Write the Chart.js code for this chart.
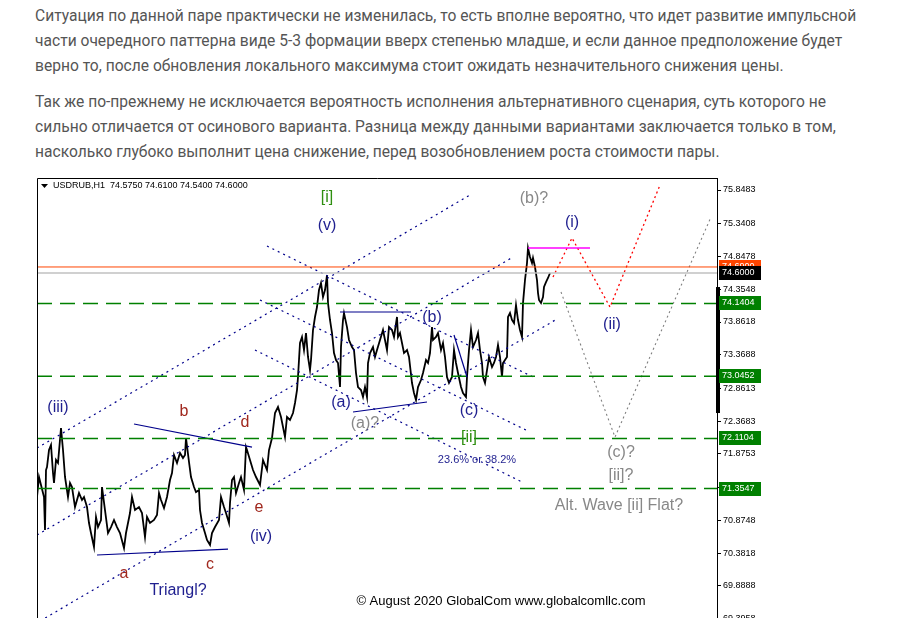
<!DOCTYPE html>
<html>
<head>
<meta charset="utf-8">
<script src="https://cdn.jsdelivr.net/npm/chart.js@4.4.0/dist/chart.umd.min.js"></script>
<style>
html, body { margin: 0; padding: 0; background: #fff; overflow: hidden; width: 910px; height: 618px; }
.txt { position: absolute; left: 35px; top: 4px; font-family: 'Roboto', sans-serif; font-size: 15.6px; line-height: 25px; color: #555; white-space: nowrap; }
.txt p { margin: 0 0 11px 0; }
#chart { position: absolute; left: 0; top: 170px; }
</style>
</head>
<body>
<div class="txt">
<p>Ситуация по данной паре практически не изменилась, то есть вполне вероятно, что идет развитие импульсной<br>части очередного паттерна виде 5-3 формации вверх степенью младше, и если данное предположение будет<br>верно то, после обновления локального максимума стоит ожидать незначительного снижения цены.</p>
<p>Так же по-прежнему не исключается вероятность исполнения альтернативного сценария, суть которого не<br>сильно отличается от осинового варианта. Разница между данными вариантами заключается только в том,<br>насколько глубоко выполнит цена снижение, перед возобновлением роста стоимости пары.</p>
</div>
<canvas id="chart" width="910" height="470"></canvas>
<script>
// USDRUB H1 — hourly close path (bar index, price)
const priceBars = [
  0, 2, 4, 6, 7, 8, 9, 10, 12, 14,
  16, 17, 19, 21, 24, 26, 28, 31, 33, 35,
  38, 42, 45, 47, 50, 52, 54, 57, 59, 61,
  64, 65, 68, 71, 74, 77, 80, 83, 87, 89,
  93, 95, 98, 102, 105, 108, 110, 113, 117, 120,
  122, 124, 127, 130, 133, 135, 137, 140, 143, 146,
  148, 149, 152, 154, 157, 159, 162, 163, 165, 168,
  170, 173, 175, 178, 182, 184, 187, 189, 192, 193,
  195, 197, 199, 202, 204, 207, 209, 210, 213, 216,
  219, 223, 226, 230, 232, 235, 238, 241, 244, 248,
  250, 253, 256, 258, 260, 261, 263, 265, 267, 269,
  271, 273, 274, 276, 278, 280, 282, 284, 286, 288,
  290, 291, 293, 295, 297, 299, 301, 303, 304, 306,
  307, 310, 312, 315, 317, 319, 321, 324, 326, 328,
  330, 331, 333, 336, 338, 340, 343, 346, 348, 350,
  352, 355, 357, 360, 361, 363, 365, 367, 370, 372,
  375, 377, 379, 381, 384, 386, 389, 391, 393, 395,
  396, 399, 401, 404, 406, 408, 410, 412, 415, 417,
  419, 421, 424, 426, 429, 430, 432, 434, 436, 439,
  441, 443, 445, 446, 448, 450, 452, 455, 457, 459,
  461, 463, 465, 466, 468, 470, 471, 473, 475, 477,
  479, 481, 483, 485, 486, 488, 490, 491, 493, 495,
  496, 498, 500, 501, 502, 504, 506, 507, 509, 511,
  513
];
const priceClose = [
  71.228, 71.529, 71.409, 71.288, 71.228, 70.731, 71.634, 71.679, 71.935, 72.011,
  71.589, 71.439, 71.785, 71.740, 72.266, 71.935, 71.529, 71.228, 71.439, 71.378,
  71.077, 71.288, 71.183, 71.228, 71.077, 70.837, 70.686, 70.475, 70.927, 70.776,
  70.882, 71.378, 71.032, 70.686, 70.776, 70.882, 70.776, 70.686, 70.460, 70.686,
  70.987, 71.228, 71.032, 71.077, 70.987, 70.626, 70.927, 70.837, 70.882, 70.957,
  71.288, 71.183, 71.062, 71.228, 71.484, 71.589, 71.860, 71.740, 71.890, 71.815,
  71.860, 72.116, 71.755, 71.529, 71.378, 71.303, 71.333, 71.032, 70.837, 70.686,
  70.581, 70.506, 70.686, 70.776, 70.882, 71.228, 71.077, 70.987, 70.837, 71.138,
  71.484, 71.529, 71.288, 71.439, 71.529, 71.333, 71.980, 71.935, 71.785, 71.634,
  71.529, 71.409, 71.785, 71.634, 71.935, 72.116, 72.492, 72.582, 72.432, 72.131,
  72.432, 72.387, 72.492, 72.643, 72.838, 73.034, 73.546, 73.636, 73.440, 73.696,
  73.335, 73.139, 73.290, 73.741, 73.937, 74.087, 74.343, 74.448, 74.238, 74.343,
  74.569, 74.147, 73.892, 73.696, 73.395, 73.290, 73.245, 72.883, 73.485, 73.892,
  73.997, 73.786, 73.591, 73.485, 73.440, 73.094, 72.883, 72.838, 72.733, 72.883,
  72.733, 73.245, 73.395, 73.485, 73.335, 73.440, 73.591, 73.741, 73.591, 73.440,
  73.786, 73.741, 73.636, 73.937, 73.636, 73.696, 73.546, 73.395, 73.440, 73.335,
  72.944, 72.793, 72.688, 72.883, 72.989, 73.094, 73.290, 73.245, 73.395, 73.786,
  73.591, 73.636, 73.696, 73.440, 73.546, 73.335, 73.034, 72.944, 73.034, 73.440,
  73.245, 73.094, 72.883, 72.793, 72.733, 73.034, 73.440, 73.741, 73.485, 73.591,
  73.696, 73.440, 73.245, 73.034, 72.944, 73.139, 73.335, 73.184, 73.245, 73.335,
  73.515, 73.335, 73.034, 73.245, 73.290, 73.335, 73.937, 73.997, 73.892, 73.846,
  74.117, 73.892, 73.741, 73.636, 74.147, 74.494, 74.749, 74.975, 74.840, 74.749,
  74.825, 74.689, 74.494, 74.298, 74.193, 74.147, 74.238, 74.388, 74.463, 74.524,
  74.599
];

// right-hand price scale
const yTicks = [75.8483, 75.3408, 74.8478, 74.3548, 73.8618, 73.3688, 72.8613,
  72.3683, 71.8753, 71.3783, 70.8748, 70.3818, 69.8888, 69.3958];

// horizontal levels: ask, bid, then the four support/resistance levels
const askLevel = 74.69;
const bidLevel = 74.60;
const greenLevels = [74.1404, 73.0452, 72.1104, 71.3547];

// trend lines, [bar, price] end points
const channelUpper = [[0, 71.965], [433, 75.773]];
const channelMiddle = [[0, 70.656], [476, 74.840]];
const channelLower = [[3, 69.362], [520, 73.907]];
const fanTop = [[230, 75.005], [496, 73.034]];
const fanMid = [[223, 74.193], [491, 72.221]];
const fanLow = [[218, 73.440], [485, 71.454]];
const triangleTop = [[97, 72.327], [215, 71.980]];
const triangleBottom = [[60, 70.355], [191, 70.445]];
const waveATop = [[303, 74.012], [374, 74.012]];
const waveABase = [[316, 72.507], [390, 72.658]];
const waveCLeg = [[417, 73.666], [430, 73.034]];
const waveBHigh = [[491, 74.975], [553, 74.975]];
const forecastMain = [[516, 74.539], [535, 75.126], [573, 74.087], [623, 75.923]];
const forecastAlt = [[524, 74.313], [578, 72.131], [674, 75.442]];

// scroll marker on the price axis (price from, price to)
const axisMarker = [74.388, 72.492];

// wave labels
const labelText = ['[i]', '(v)', '(iii)', 'b', 'd', 'e', '(iv)', 'a', 'c', 'Triangl?',
  '(a)', '(a)?', '(b)', '(c)', '[ii]', '23.6% or 38.2%', '(b)?', '(i)', '(ii)',
  '(c)?', '[ii]?', 'Alt. Wave [ii] Flat?', '© August 2020 GlobalCom www.globalcomllc.com'];
const labelBar = [290, 290, 21, 147, 208, 222, 224, 87, 173, 141,
  304, 328, 395, 432, 432, 440, 497, 535, 575,
  584, 584, 582, 464];
const labelPrice = [75.728, 75.306, 72.567, 72.507, 72.342, 71.062, 70.626, 70.069, 70.205, 69.813,
  72.643, 72.327, 73.922, 72.522, 72.116, 71.785, 75.713, 75.351, 73.816,
  71.890, 71.544, 71.093, 69.663];
const labelKind = ['minor', 'wave', 'wave', 'sub', 'sub', 'sub', 'wave', 'sub', 'sub', 'wave',
  'wave', 'alt', 'wave', 'wave', 'minor', 'fib', 'alt', 'wave', 'wave',
  'alt', 'alt', 'alt', 'copy'];

const KIND_STYLE = {
  wave: { color: '#1f1f8f', font: '16px "Liberation Sans", Arial, sans-serif' },
  sub: { color: '#a0281e', font: '16px "Liberation Sans", Arial, sans-serif' },
  minor: { color: '#2f8f10', font: '16px "Liberation Sans", Arial, sans-serif' },
  alt: { color: '#888888', font: '16px "Liberation Sans", Arial, sans-serif' },
  fib: { color: '#1f1f8f', font: '11px "Liberation Sans", Arial, sans-serif' },
  copy: { color: '#000000', font: '13px "Liberation Sans", Arial, sans-serif' },
};

const NAVY = '#00008b';
const GREEN = '#008000';

Chart.defaults.font.family = "'Liberation Sans', Arial, sans-serif";

function seg(points, color, width, dash) {
  return {
    data: points.map(p => ({ x: p[0], y: p[1] })),
    borderColor: color,
    borderWidth: width,
    borderDash: dash || [],
    pointRadius: 0,
    fill: false,
  };
}

const datasets = [];
datasets.push(seg([[0, askLevel], [680, askLevel]], '#ff4500', 1));
datasets.push(seg([[0, bidLevel], [680, bidLevel]], '#c0c0c0', 1.5));
greenLevels.forEach(v => datasets.push(seg([[0, v], [680, v]], GREEN, 1.5, [15, 8])));
[channelUpper, channelMiddle, channelLower, fanTop, fanMid, fanLow]
  .forEach(l => datasets.push(seg(l, NAVY, 1.2, [2, 4])));
[triangleTop, triangleBottom, waveATop, waveABase, waveCLeg]
  .forEach(l => datasets.push(seg(l, NAVY, 1.2)));
datasets.push(seg(waveBHigh, '#ff00ff', 1.5));
datasets.push({
  data: priceBars.map((b, i) => ({ x: b, y: priceClose[i] })),
  borderColor: '#000',
  borderWidth: 1.8,
  pointRadius: 0,
  fill: false,
});
datasets.push(seg(forecastMain, '#ff0000', 1.3, [2, 3]));
datasets.push(seg(forecastAlt, '#808080', 1.1, [2, 3]));

const overlay = {
  id: 'overlay',
  afterDatasetsDraw(chart) {
    const { ctx, chartArea: a, scales: { x, y } } = chart;
    ctx.save();
    // frame
    ctx.strokeStyle = '#000';
    ctx.lineWidth = 1;
    ctx.beginPath();
    ctx.moveTo(a.left + 0.5, a.bottom);
    ctx.lineTo(a.left + 0.5, a.top + 0.5);
    ctx.lineTo(a.right, a.top + 0.5);
    ctx.stroke();

    // header
    ctx.fillStyle = '#000';
    ctx.beginPath();
    ctx.moveTo(a.left + 4, a.top + 6);
    ctx.lineTo(a.left + 11, a.top + 6);
    ctx.lineTo(a.left + 7.5, a.top + 10);
    ctx.closePath();
    ctx.fill();
    ctx.font = '9px "Liberation Sans", Arial, sans-serif';
    ctx.textBaseline = 'middle';
    ctx.textAlign = 'left';
    ctx.fillText('USDRUB,H1  74.5750 74.6100 74.5400 74.6000', a.left + 16, a.top + 8);

    // wave labels
    ctx.textAlign = 'center';
    labelText.forEach((t, i) => {
      const st = KIND_STYLE[labelKind[i]];
      ctx.font = st.font;
      ctx.fillStyle = st.color;
      ctx.fillText(t, x.getPixelForValue(labelBar[i]), y.getPixelForValue(labelPrice[i]));
    });
    ctx.restore();
  },
  afterDraw(chart) {
    const { ctx, chartArea: a, scales: { y } } = chart;
    ctx.save();
    // axis scroll marker
    const m0 = y.getPixelForValue(axisMarker[0]);
    const m1 = y.getPixelForValue(axisMarker[1]);
    ctx.fillStyle = '#000';
    ctx.fillRect(a.right - 1, m0, 4, m1 - m0);

    // price boxes on the axis
    const boxes = [[askLevel, '#ff4500'], [bidLevel, '#000000']]
      .concat(greenLevels.map(v => [v, GREEN]));
    ctx.font = '9px "Liberation Sans", Arial, sans-serif';
    ctx.textBaseline = 'middle';
    ctx.textAlign = 'left';
    boxes.forEach(([v, c]) => {
      const py = Math.round(y.getPixelForValue(v));
      ctx.fillStyle = c;
      ctx.fillRect(a.right + 2, py - 7, 42, 14);
      ctx.fillStyle = '#fff';
      ctx.fillText(v.toFixed(4), a.right + 5, py);
    });
    ctx.restore();
  },
};

new Chart(document.getElementById('chart'), {
  type: 'line',
  data: { datasets },
  options: {
    responsive: false,
    animation: false,
    layout: { padding: { left: 37, top: 8, right: 0, bottom: 0 } },
    plugins: { legend: { display: false }, tooltip: { enabled: false } },
    elements: { line: { tension: 0 } },
    scales: {
      x: { type: 'linear', min: 0, max: 680, display: false },
      y: {
        position: 'right',
        min: 69.076,
        max: 76.029,
        afterFit(s) { s.width = 193; s.paddingTop = 0; s.paddingBottom = 0; },
        afterBuildTicks(s) { s.ticks = yTicks.map(v => ({ value: v })); },
        ticks: {
          autoSkip: false,
          color: '#000',
          padding: 2,
          font: { size: 9 },
          callback: v => v.toFixed(4),
        },
        grid: { drawOnChartArea: false, drawTicks: true, tickLength: 4, color: '#000' },
        border: { color: '#000' },
      },
    },
  },
  plugins: [overlay],
});
</script>
</body>
</html>
